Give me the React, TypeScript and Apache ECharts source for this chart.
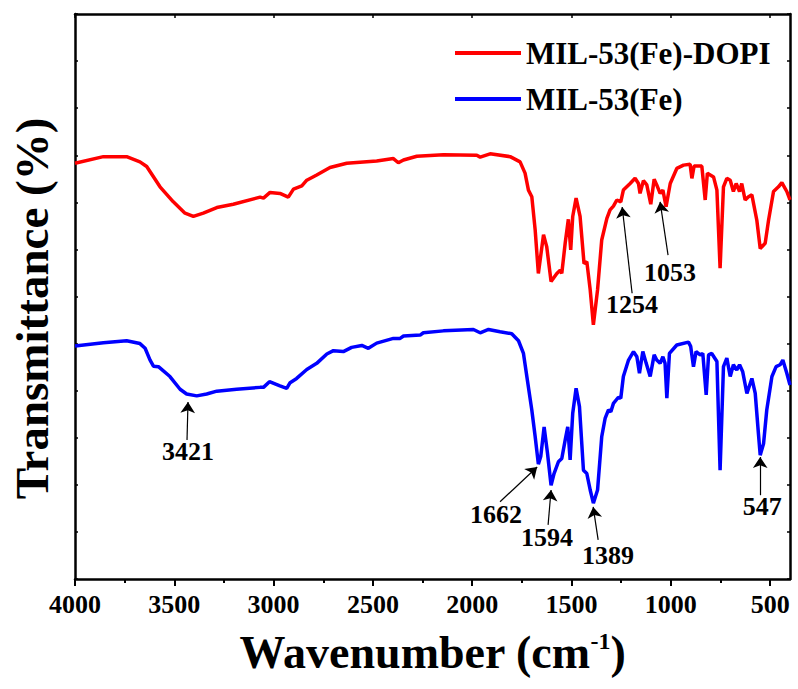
import React, { useEffect, useRef } from "react";
import * as echarts from "echarts";

const FONT = "'Liberation Serif', 'Times New Roman', serif";

// MIL-53(Fe)-DOPI (red)
const redWn = [4000,3857,3740,3673,3639,3572,3505,3446,3404,3354,3286,3203,3068,3051,3018,2968,2926,2900,2858,2833,2783,2716,2632,2481,2397,2372,2346,2279,2145,1977,1960,1910,1809,1759,1734,1717,1700,1683,1667,1641,1625,1603,1574,1557,1549,1532,1516,1504,1494,1477,1457,1437,1423,1406,1390,1369,1348,1322,1306,1289,1272,1252,1239,1205,1180,1163,1155,1138,1121,1101,1084,1071,1054,1040,1024,1003,970,936,903,894,883,844,827,816,785,768,752,735,718,701,685,671,654,643,626,609,592,567,550,525,508,483,458,441,416,400];
const redT = [8.83,8.97,8.97,8.86,8.76,8.33,8.01,7.77,7.70,7.77,7.89,7.96,8.11,8.09,8.21,8.19,8.11,8.28,8.35,8.47,8.58,8.74,8.83,8.88,8.93,8.84,8.90,8.98,9.01,9.00,8.96,9.03,8.97,8.86,8.62,8.26,8.12,7.41,6.49,7.31,7.06,6.32,6.49,6.56,6.49,7.13,7.64,6.99,7.70,8.09,7.70,6.70,6.74,6.14,5.40,6.14,7.20,7.66,7.84,7.92,8.05,8.01,8.26,8.40,8.51,8.40,8.19,8.46,8.37,7.96,8.49,8.37,8.19,8.26,7.91,8.40,8.72,8.79,8.81,8.51,8.77,8.77,8.05,8.62,8.54,8.26,6.60,8.33,8.51,8.47,8.23,8.40,8.23,8.40,8.05,8.12,8.16,7.62,7.02,7.13,7.62,8.23,8.33,8.42,8.23,8.05];

// MIL-53(Fe) (blue)
const blueWn = [4000,3857,3740,3673,3647,3622,3605,3580,3522,3471,3438,3387,3337,3286,3186,3068,3051,3021,2968,2934,2917,2884,2833,2783,2732,2699,2649,2607,2556,2523,2481,2397,2363,2346,2262,2246,2145,1994,1960,1918,1860,1801,1767,1742,1725,1700,1683,1667,1655,1638,1621,1603,1588,1566,1549,1532,1519,1507,1494,1477,1460,1440,1423,1406,1390,1369,1348,1331,1314,1302,1289,1264,1252,1239,1213,1188,1171,1158,1141,1124,1104,1084,1071,1054,1040,1029,1020,1007,970,911,900,886,873,852,839,822,810,794,768,752,735,718,701,685,668,654,638,617,592,575,559,550,533,517,491,470,450,436,416,400];
const blueT = [4.95,5.02,5.06,5.00,4.90,4.65,4.52,4.51,4.30,4.03,3.93,3.89,3.93,3.99,4.03,4.07,4.07,4.19,4.10,4.05,4.17,4.26,4.45,4.58,4.78,4.85,4.83,4.92,4.96,4.90,5.01,5.11,5.11,5.16,5.18,5.23,5.27,5.30,5.23,5.30,5.25,5.21,5.06,4.79,4.30,3.59,3.02,2.44,2.60,3.23,2.67,1.99,2.24,2.49,2.56,2.95,3.23,2.53,3.52,4.05,3.66,2.31,2.24,1.89,1.61,1.89,3.02,3.41,3.59,3.55,3.73,3.86,3.84,4.30,4.65,4.83,4.72,4.37,4.83,4.58,4.30,4.76,4.65,4.58,4.72,4.58,3.84,4.79,4.97,5.03,4.94,4.51,4.83,4.76,4.79,3.91,4.76,4.79,4.62,2.31,4.51,4.69,4.30,4.55,4.44,4.55,4.40,3.94,4.26,3.94,3.09,2.63,2.88,3.59,4.30,4.51,4.55,4.65,4.37,4.12];

const seriesNames = ["MIL-53(Fe)-DOPI", "MIL-53(Fe)"];
const majorTicks = [4000, 3500, 3000, 2500, 2000, 1500, 1000, 500];
const minorTicks = [3750, 3250, 2750, 2250, 1750, 1250, 750];

// peak labels: text, arrow tip [wn, T], arrow tail [wn, T], text centre [wn, T]
const redPeaks = [
  { text: "1254", tip: [1245, 7.9], tail: [1195, 6.07], at: [1195, 5.82] },
  { text: "1053", tip: [1054, 8.01], tail: [1014, 6.88], at: [1004, 6.52] },
];
const bluePeaks = [
  { text: "3421", tip: [3431, 3.76], tail: [3436, 2.95], at: [3431, 2.7] },
  { text: "1662", tip: [1673, 2.38], tail: [1860, 1.64], at: [1880, 1.38] },
  { text: "1594", tip: [1603, 1.89], tail: [1618, 1.15], at: [1623, 0.89] },
  { text: "1389", tip: [1391, 1.53], tail: [1366, 0.83], at: [1316, 0.5] },
  { text: "547", tip: [550, 2.59], tail: [550, 1.78], at: [540, 1.53] },
];

const zip = (a: number[], b: number[]) => a.map((x, i) => [x, b[i]]);

function marks(peaks: typeof redPeaks) {
  return {
    markLine: {
      silent: true,
      animation: false,
      symbol: ["none", "arrow"],
      symbolSize: 11,
      lineStyle: { color: "#000", width: 1.2, type: "solid" },
      label: { show: false },
      emphasis: { disabled: true },
      data: peaks.map((p) => [{ coord: p.tail }, { coord: p.tip }]),
    },
    markPoint: {
      silent: true,
      animation: false,
      symbol: "rect",
      symbolSize: 1,
      itemStyle: { color: "rgba(0,0,0,0)" },
      label: {
        show: true,
        position: "inside",
        formatter: (p: any) => p.name,
        fontSize: 26,
        fontWeight: "bold",
        fontFamily: FONT,
        color: "#000",
      },
      data: peaks.map((p) => ({ name: p.text, coord: p.at })),
    },
  };
}

export default function App() {
  const ref = useRef<HTMLDivElement>(null);
  useEffect(() => {
    const chart = echarts.init(ref.current!, null, { renderer: "svg" });
    const axisLine = { show: true, lineStyle: { color: "#000", width: 2.5 } };
    const xBase = { type: "value", min: 400, max: 4000, inverse: true, splitLine: { show: false } };
    const option: any = {
      animation: false,
      backgroundColor: "#fff",
      grid: { left: 75, right: 8, top: 14, bottom: 110, containLabel: false, outerBoundsMode: "none" },
      legend: {
        orient: "vertical",
        left: 450,
        top: 31,
        icon: "rect",
        itemWidth: 66,
        itemHeight: 4,
        itemGap: 12,
        data: seriesNames,
        textStyle: { fontSize: 31, fontWeight: "bold", fontFamily: FONT, color: "#000", lineHeight: 34 },
      },
      xAxis: [
        {
          ...xBase,
          position: "bottom",
          axisLine,
          axisTick: { show: true, customValues: majorTicks, length: 7, inside: false, lineStyle: { color: "#000", width: 2 } },
          axisLabel: {
            customValues: majorTicks,
            formatter: (v: number) => String(v),
            fontSize: 26,
            fontWeight: "bold",
            fontFamily: FONT,
            color: "#000",
            margin: 12,
          },
          name: "Wavenumber (cm{sup|-1})",
          nameLocation: "middle",
          nameGap: 50,
          nameTextStyle: {
            fontSize: 46,
            fontWeight: "bold",
            fontFamily: FONT,
            color: "#000",
            rich: { sup: { fontSize: 24, fontWeight: "bold", fontFamily: FONT, color: "#000", verticalAlign: "top", lineHeight: 44 } },
          },
        },
        {
          ...xBase,
          position: "bottom",
          axisLine: { show: false },
          axisTick: { show: true, customValues: minorTicks, length: 4, inside: false, lineStyle: { color: "#000", width: 2 } },
          axisLabel: { show: false },
        },
        {
          ...xBase,
          position: "top",
          axisLine,
          axisTick: { show: true, customValues: majorTicks, length: 4, inside: true, lineStyle: { color: "#000", width: 1.5 } },
          axisLabel: { show: false },
        },
      ],
      yAxis: [
        {
          type: "value",
          min: 0,
          max: 12,
          interval: 1,
          position: "left",
          axisLine,
          axisTick: { show: true, inside: true, length: 3, lineStyle: { color: "#000", width: 1.5 } },
          axisLabel: { show: false },
          splitLine: { show: false },
          name: "Transmittance (%)",
          nameLocation: "middle",
          nameGap: 20,
          nameTextStyle: { fontSize: 47, fontWeight: "bold", fontFamily: FONT, color: "#000", padding: [0, 24, 0, 0] },
        },
        {
          type: "value",
          min: 0,
          max: 12,
          interval: 1,
          position: "right",
          axisLine,
          axisTick: { show: true, inside: true, length: 3, lineStyle: { color: "#000", width: 1.5 } },
          axisLabel: { show: false },
          splitLine: { show: false },
        },
      ],
      series: [
        {
          name: seriesNames[0],
          type: "line",
          xAxisIndex: 0,
          yAxisIndex: 0,
          showSymbol: false,
          symbol: "none",
          color: "#ff0000",
          lineStyle: { color: "#ff0000", width: 3.5 },
          data: zip(redWn, redT),
          z: 3,
          ...marks(redPeaks),
        },
        {
          name: seriesNames[1],
          type: "line",
          xAxisIndex: 0,
          yAxisIndex: 0,
          showSymbol: false,
          symbol: "none",
          color: "#0000ff",
          lineStyle: { color: "#0000ff", width: 3.5 },
          data: zip(blueWn, blueT),
          z: 3,
          ...marks(bluePeaks),
        },
      ],
    };
    chart.setOption(option);
    return () => chart.dispose();
  }, []);
  return <div ref={ref} style={{ position: "absolute", left: 0, top: 0, width: 798, height: 689 }} />;
}
